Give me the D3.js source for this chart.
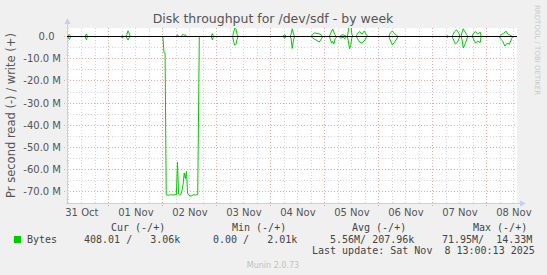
<!DOCTYPE html>
<html>
<meta charset="utf-8">
<head>
<script src="https://d3js.org/d3.v7.min.js"></script>
<style>
  body { margin: 0; background: #f0f0f0; }
  text { font-family: "DejaVu Sans", sans-serif; }
  .mono { font-family: "DejaVu Sans Mono", monospace; }
</style>
</head>
<body>
<script>
var width = 547, height = 275;

// day labels, placed at noon of each day
var dayLabels = ["31 Oct", "01 Nov", "02 Nov", "03 Nov", "04 Nov", "05 Nov", "06 Nov", "07 Nov", "08 Nov"];
var yTicks = [0, -10, -20, -30, -40, -50, -60, -70];

// hours since 31 Oct 00:00, bytes/s in M (read is drawn negative)
var readHours = [5.5, 6.5, 7.0, 13.5, 14.0, 14.5, 29.5, 30.0, 30.5, 31.5, 32.0, 32.5, 33.0, 33.5,
  48.0, 48.5, 49.0, 49.5, 50.5, 51.5, 52.5, 53.5, 54.0, 54.5, 55.0, 55.5, 56.0, 56.5, 57.0, 57.5,
  58.0, 58.5, 59.0, 59.5, 60.5, 61.5, 62.5, 63.5, 64.2,
  69.5, 70.0, 70.5, 79.0, 79.5, 80.0, 80.5, 81.0, 81.5,
  101.5, 102.0, 103.0, 104.5, 105.0, 105.5, 106.0, 106.5,
  114.0, 114.5, 115.5, 116.5, 117.5, 118.5, 119.0,
  122.0, 122.5, 123.0, 123.5, 124.0, 124.5, 125.0, 125.5,
  126.5, 127.0, 128.0, 129.0, 129.5,
  130.0, 130.5, 131.0, 131.5, 132.0, 132.5,
  134.0, 134.5, 135.5, 136.5, 137.5, 138.5, 139.0,
  148.5, 149.0, 150.0, 151.0, 152.0, 152.5,
  174.0, 174.5, 175.0, 176.5, 177.0, 178.0, 179.0, 180.0,
  180.5, 181.0, 181.5, 182.5, 183.5,
  185.5, 186.0, 187.0, 188.0, 189.0, 189.5,
  197.5, 198.0, 199.0, 200.0, 201.0, 202.0, 203.0, 203.5, 205.3];
var readValues = [0, 1.3, 0, 0, 1.5, 0, 0, 0.8, 0, 0, 0.5, 1.6, 0.6, 0,
  0, 7.3, 7.5, 71.3, 71.5, 71.3, 71.4, 71.2, 71.3, 56.6, 71.0, 71.4, 71.2, 69.5, 66.5, 61.5,
  64.0, 60.8, 70.8, 71.4, 71.95, 71.3, 71.4, 71.2, 0,
  0, 1.5, 0, 0, 2.5, 3.9, 3.5, 1.2, 0,
  0, 0.8, 0, 0, 1.0, 5.4, 2.0, 0,
  0, 0.6, 1.3, 1.8, 2.5, 1.0, 0,
  0, 1.5, 3.0, 2.2, 3.4, 1.0, 0.5, 0,
  0, 0.8, 0.3, 1.0, 0,
  0, 2.5, 5.6, 4.0, 0.5, 0,
  0, 1.0, 2.5, 3.0, 2.0, 0.5, 0,
  0, 1.5, 3.8, 2.5, 1.0, 0,
  0, 0.5, 0, 0, 1.0, 3.4, 2.5, 0,
  0, 1.5, 5.2, 3.0, 0,
  0, 1.0, 3.0, 2.0, 2.8, 0,
  0, 1.0, 2.0, 4.3, 3.0, 3.5, 1.0, 0, 0];

var writeHours = [5.5, 6.5, 7.0, 13.5, 14.0, 14.5, 29.5, 30.0, 30.5, 31.5, 32.0, 32.5, 33.0, 33.5,
  54.0, 54.5, 55.0, 56.0, 56.5, 57.0, 57.5, 58.0, 58.5,
  69.5, 70.0, 70.5, 79.0, 79.5, 80.0, 80.5, 81.0, 81.5,
  101.5, 102.0, 103.0, 104.5, 105.0, 105.5, 106.0, 106.5,
  114.0, 114.5, 115.5, 116.5, 117.5, 118.5, 119.0,
  122.0, 122.5, 123.0, 123.5, 124.0, 124.5, 125.0,
  126.5, 127.0, 128.0, 129.0, 129.5,
  130.0, 130.5, 131.0, 131.5, 132.0, 132.5,
  134.0, 134.5, 135.5, 136.5, 137.5, 138.5, 139.0,
  148.5, 149.0, 150.0, 151.0, 152.0, 152.5,
  174.0, 174.5, 175.0, 176.5, 177.0, 177.5, 178.5, 179.5, 180.0,
  180.5, 181.0, 181.5, 182.0, 183.0, 183.5,
  185.5, 186.0, 187.0, 188.0, 189.0, 189.5,
  197.5, 198.0, 199.5, 200.5, 201.5, 202.5, 203.5, 205.3];
var writeValues = [0, 0.9, 0, 0, 1.2, 0, 0, 0.5, 0, 0, 0.8, 2.6, 1.5, 0,
  0, 0.8, 0, 0, 0.6, 1.0, 0.5, 0.9, 0,
  0, 1.3, 0, 0, 2.0, 3.8, 3.2, 1.0, 0,
  0, 0.9, 0, 0, 1.0, 3.5, 1.5, 0,
  0, 1.0, 1.6, 1.4, 1.2, 0.6, 0,
  0, 1.2, 2.5, 3.4, 2.0, 0.8, 0,
  0, 0.5, 0.8, 0.4, 0,
  0, 3.0, 14.33, 6.0, 1.0, 0,
  0, 1.5, 2.2, 1.0, 2.5, 0.8, 0,
  0, 1.5, 2.5, 1.2, 0.5, 0,
  0, 0.4, 0, 0, 0.8, 2.0, 3.0, 1.5, 0,
  0, 2.0, 3.5, 2.5, 1.0, 0,
  0, 1.5, 2.2, 1.0, 2.0, 0,
  0, 0.5, 1.5, 2.4, 1.0, 0.5, 0, 0];

var legendHeads = ["Cur (-/+)", "Min (-/+)", "Avg (-/+)", "Max (-/+)"];
var legendVals = ["408.01 /   3.06k", "0.00 /   2.01k", "5.56M/ 207.96k", "71.95M/  14.33M"];

var plotLeft = 67, plotRight = 517, plotTop = 28, plotBottom = 203;

var svg = d3.select("body").append("svg")
    .attr("width", width)
    .attr("height", height);

svg.append("rect").attr("width", width).attr("height", height).attr("fill", "#f0f0f0");

var x = d3.scaleLinear().domain([5.4, 205.4]).range([plotLeft, plotRight]);
var y = d3.scaleLinear().domain([-75, 3.83]).range([plotBottom, plotTop]);

function px(v) { return Math.floor(v) + 0.5; }

svg.append("rect")
    .attr("x", plotLeft).attr("y", plotTop)
    .attr("width", plotRight - plotLeft).attr("height", plotBottom - plotTop)
    .attr("fill", "#ffffff");

var grid = svg.append("g");

// minor grid: every 6 hours and every 5 M
var hourLines = d3.range(6, 205, 6);
grid.selectAll(".vg").data(hourLines).enter().append("line")
    .attr("x1", function(d) { return px(x(d)); })
    .attr("x2", function(d) { return px(x(d)); })
    .attr("y1", plotTop).attr("y2", function(d) { return d % 24 == 0 ? plotBottom + 3 : plotBottom; })
    .attr("stroke", function(d) { return d % 24 == 0 ? "#e8a8a8" : "#d4d4d4"; })
    .attr("stroke-dasharray", "1,2");

var minorY = [-5, -15, -25, -35, -45, -55, -65];
grid.selectAll(".hm").data(minorY).enter().append("line")
    .attr("x1", plotLeft).attr("x2", plotRight)
    .attr("y1", function(d) { return px(y(d)); })
    .attr("y2", function(d) { return px(y(d)); })
    .attr("stroke", "#d4d4d4")
    .attr("stroke-dasharray", "1,2");

grid.selectAll(".hM").data(yTicks).enter().append("line")
    .attr("x1", plotLeft - 3).attr("x2", plotRight)
    .attr("y1", function(d) { return px(y(d)); })
    .attr("y2", function(d) { return px(y(d)); })
    .attr("stroke", "#e8a8a8")
    .attr("stroke-dasharray", "1,2");

// axis lines with arrows
var axisColor = "#c8cef0";
svg.append("line").attr("x1", plotLeft + 0.5).attr("x2", plotLeft + 0.5).attr("y1", plotBottom + 1).attr("y2", plotTop - 6)
    .attr("stroke", axisColor);
svg.append("line").attr("x1", plotLeft - 1).attr("x2", plotRight + 5).attr("y1", plotBottom + 0.5).attr("y2", plotBottom + 0.5)
    .attr("stroke", axisColor);
svg.append("path").attr("d", "M" + (plotLeft - 2.5) + "," + (plotTop - 4) + "L" + (plotLeft + 0.5) + "," + (plotTop - 10) + "L" + (plotLeft + 3.5) + "," + (plotTop - 4) + "Z")
    .attr("fill", axisColor);
svg.append("path").attr("d", "M" + (plotRight + 3) + "," + (plotBottom - 2.5) + "L" + (plotRight + 9) + "," + (plotBottom + 0.5) + "L" + (plotRight + 3) + "," + (plotBottom + 3.5) + "Z")
    .attr("fill", axisColor);

// data
svg.append("clipPath").attr("id", "plot").append("rect")
    .attr("x", plotLeft).attr("y", plotTop).attr("width", plotRight - plotLeft).attr("height", plotBottom - plotTop);

var line = d3.line()
    .x(function(d) { return x(d[0]); })
    .y(function(d) { return y(d[1]); });

var readData = d3.zip(readHours, readValues.map(function(v) { return -v; }));
var writeData = d3.zip(writeHours, writeValues);

var plot = svg.append("g").attr("clip-path", "url(#plot)");
plot.append("path").datum(readData).attr("d", line)
    .attr("fill", "none").attr("stroke", "#00cc00").attr("stroke-width", 1);
plot.append("path").datum(writeData).attr("d", line)
    .attr("fill", "none").attr("stroke", "#00cc00").attr("stroke-width", 1);

svg.append("line").attr("x1", plotLeft).attr("x2", plotRight)
    .attr("y1", px(y(0))).attr("y2", px(y(0)))
    .attr("stroke", "#000000");

// y tick labels
svg.selectAll(".yl").data(yTicks).enter().append("text")
    .attr("x", function(d) { return d == 0 ? 54.5 : 61; })
    .attr("y", function(d) { return y(d); })
    .attr("dy", "0.35em")
    .attr("text-anchor", "end")
    .attr("font-size", "10px")
    .attr("fill", "#555")
    .text(function(d) { return d == 0 ? "0.0" : d.toFixed(1) + " M"; });

// x tick labels
svg.selectAll(".xl").data(dayLabels).enter().append("text")
    .attr("x", function(d, i) { return x(12 + 24 * i); })
    .attr("y", 216)
    .attr("text-anchor", "middle")
    .attr("font-size", "10px")
    .attr("fill", "#555")
    .text(function(d) { return d; });

svg.append("text")
    .attr("x", 273).attr("y", 22.5)
    .attr("text-anchor", "middle")
    .attr("font-size", "12.5px")
    .attr("fill", "#555")
    .text("Disk throughput for /dev/sdf - by week");

svg.append("text")
    .attr("transform", "translate(14.5," + ((plotTop + plotBottom) / 2) + ") rotate(-90)")
    .attr("text-anchor", "middle")
    .attr("font-size", "11.5px")
    .attr("fill", "#555")
    .text("Pr second read (-) / write (+)");

svg.append("text")
    .attr("transform", "translate(535,5) rotate(90)")
    .attr("font-size", "7px")
    .attr("fill", "#c8c8c8")
    .text("RRDTOOL / TOBI OETIKER");

// legend
var headX = [111, 232, 352, 473];
var valX = [84, 213, 330, 442];
svg.selectAll(".lh").data(legendHeads).enter().append("text")
    .attr("class", "mono")
    .attr("x", function(d, i) { return headX[i]; })
    .attr("y", 231)
    .attr("font-size", "10px")
    .attr("fill", "#444")
    .style("white-space", "pre")
    .text(function(d) { return d; });

svg.append("rect").attr("x", 14).attr("y", 236).attr("width", 7).attr("height", 7).attr("fill", "#00cc00");
svg.append("text").attr("class", "mono").attr("x", 27).attr("y", 242.5)
    .attr("font-size", "10px").attr("fill", "#444").text("Bytes");

svg.selectAll(".lv").data(legendVals).enter().append("text")
    .attr("class", "mono")
    .attr("x", function(d, i) { return valX[i]; })
    .attr("y", 242.5)
    .attr("font-size", "10px")
    .attr("fill", "#444")
    .style("white-space", "pre")
    .text(function(d) { return d; });

svg.append("text").attr("class", "mono")
    .attr("x", 312).attr("y", 254)
    .attr("font-size", "10px").attr("fill", "#444")
    .style("white-space", "pre")
    .text("Last update: Sat Nov  8 13:00:13 2025");

svg.append("text")
    .attr("x", 273).attr("y", 268)
    .attr("text-anchor", "middle")
    .attr("font-size", "8px")
    .attr("fill", "#c0c0c0")
    .text("Munin 2.0.73");
</script>
</body>
</html>
